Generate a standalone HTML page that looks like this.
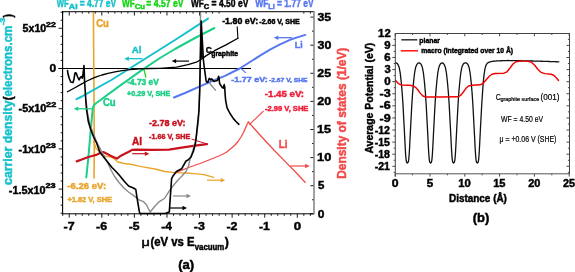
<!DOCTYPE html>
<html><head><meta charset="utf-8"><style>
html,body{margin:0;padding:0;background:#fff;width:575px;height:272px;overflow:hidden}
svg{display:block;will-change:transform}
text{font-family:"Liberation Sans",sans-serif}
</style></head><body>
<svg width="575" height="272" viewBox="0 0 575 272" font-family="Liberation Sans, sans-serif">
<rect width="575" height="272" fill="#fff"/>
<line x1="62.72" y1="213.8" x2="62.72" y2="215.8" stroke="#000" stroke-width="0.9"/>
<line x1="62.72" y1="11.6" x2="62.72" y2="13.6" stroke="#000" stroke-width="0.9"/>
<line x1="69.24" y1="213.8" x2="69.24" y2="217.7" stroke="#000" stroke-width="0.9"/>
<line x1="69.24" y1="11.6" x2="69.24" y2="15.5" stroke="#000" stroke-width="0.9"/>
<line x1="75.76" y1="213.8" x2="75.76" y2="215.8" stroke="#000" stroke-width="0.9"/>
<line x1="75.76" y1="11.6" x2="75.76" y2="13.6" stroke="#000" stroke-width="0.9"/>
<line x1="82.27" y1="213.8" x2="82.27" y2="215.8" stroke="#000" stroke-width="0.9"/>
<line x1="82.27" y1="11.6" x2="82.27" y2="13.6" stroke="#000" stroke-width="0.9"/>
<line x1="88.79" y1="213.8" x2="88.79" y2="215.8" stroke="#000" stroke-width="0.9"/>
<line x1="88.79" y1="11.6" x2="88.79" y2="13.6" stroke="#000" stroke-width="0.9"/>
<line x1="95.3" y1="213.8" x2="95.3" y2="215.8" stroke="#000" stroke-width="0.9"/>
<line x1="95.3" y1="11.6" x2="95.3" y2="13.6" stroke="#000" stroke-width="0.9"/>
<line x1="101.82" y1="213.8" x2="101.82" y2="217.7" stroke="#000" stroke-width="0.9"/>
<line x1="101.82" y1="11.6" x2="101.82" y2="15.5" stroke="#000" stroke-width="0.9"/>
<line x1="108.34" y1="213.8" x2="108.34" y2="215.8" stroke="#000" stroke-width="0.9"/>
<line x1="108.34" y1="11.6" x2="108.34" y2="13.6" stroke="#000" stroke-width="0.9"/>
<line x1="114.85" y1="213.8" x2="114.85" y2="215.8" stroke="#000" stroke-width="0.9"/>
<line x1="114.85" y1="11.6" x2="114.85" y2="13.6" stroke="#000" stroke-width="0.9"/>
<line x1="121.37" y1="213.8" x2="121.37" y2="215.8" stroke="#000" stroke-width="0.9"/>
<line x1="121.37" y1="11.6" x2="121.37" y2="13.6" stroke="#000" stroke-width="0.9"/>
<line x1="127.88" y1="213.8" x2="127.88" y2="215.8" stroke="#000" stroke-width="0.9"/>
<line x1="127.88" y1="11.6" x2="127.88" y2="13.6" stroke="#000" stroke-width="0.9"/>
<line x1="134.4" y1="213.8" x2="134.4" y2="217.7" stroke="#000" stroke-width="0.9"/>
<line x1="134.4" y1="11.6" x2="134.4" y2="15.5" stroke="#000" stroke-width="0.9"/>
<line x1="140.92" y1="213.8" x2="140.92" y2="215.8" stroke="#000" stroke-width="0.9"/>
<line x1="140.92" y1="11.6" x2="140.92" y2="13.6" stroke="#000" stroke-width="0.9"/>
<line x1="147.43" y1="213.8" x2="147.43" y2="215.8" stroke="#000" stroke-width="0.9"/>
<line x1="147.43" y1="11.6" x2="147.43" y2="13.6" stroke="#000" stroke-width="0.9"/>
<line x1="153.95" y1="213.8" x2="153.95" y2="215.8" stroke="#000" stroke-width="0.9"/>
<line x1="153.95" y1="11.6" x2="153.95" y2="13.6" stroke="#000" stroke-width="0.9"/>
<line x1="160.46" y1="213.8" x2="160.46" y2="215.8" stroke="#000" stroke-width="0.9"/>
<line x1="160.46" y1="11.6" x2="160.46" y2="13.6" stroke="#000" stroke-width="0.9"/>
<line x1="166.98" y1="213.8" x2="166.98" y2="217.7" stroke="#000" stroke-width="0.9"/>
<line x1="166.98" y1="11.6" x2="166.98" y2="15.5" stroke="#000" stroke-width="0.9"/>
<line x1="173.5" y1="213.8" x2="173.5" y2="215.8" stroke="#000" stroke-width="0.9"/>
<line x1="173.5" y1="11.6" x2="173.5" y2="13.6" stroke="#000" stroke-width="0.9"/>
<line x1="180.01" y1="213.8" x2="180.01" y2="215.8" stroke="#000" stroke-width="0.9"/>
<line x1="180.01" y1="11.6" x2="180.01" y2="13.6" stroke="#000" stroke-width="0.9"/>
<line x1="186.53" y1="213.8" x2="186.53" y2="215.8" stroke="#000" stroke-width="0.9"/>
<line x1="186.53" y1="11.6" x2="186.53" y2="13.6" stroke="#000" stroke-width="0.9"/>
<line x1="193.04" y1="213.8" x2="193.04" y2="215.8" stroke="#000" stroke-width="0.9"/>
<line x1="193.04" y1="11.6" x2="193.04" y2="13.6" stroke="#000" stroke-width="0.9"/>
<line x1="199.56" y1="213.8" x2="199.56" y2="217.7" stroke="#000" stroke-width="0.9"/>
<line x1="199.56" y1="11.6" x2="199.56" y2="15.5" stroke="#000" stroke-width="0.9"/>
<line x1="206.08" y1="213.8" x2="206.08" y2="215.8" stroke="#000" stroke-width="0.9"/>
<line x1="206.08" y1="11.6" x2="206.08" y2="13.6" stroke="#000" stroke-width="0.9"/>
<line x1="212.59" y1="213.8" x2="212.59" y2="215.8" stroke="#000" stroke-width="0.9"/>
<line x1="212.59" y1="11.6" x2="212.59" y2="13.6" stroke="#000" stroke-width="0.9"/>
<line x1="219.11" y1="213.8" x2="219.11" y2="215.8" stroke="#000" stroke-width="0.9"/>
<line x1="219.11" y1="11.6" x2="219.11" y2="13.6" stroke="#000" stroke-width="0.9"/>
<line x1="225.62" y1="213.8" x2="225.62" y2="215.8" stroke="#000" stroke-width="0.9"/>
<line x1="232.14" y1="213.8" x2="232.14" y2="217.7" stroke="#000" stroke-width="0.9"/>
<line x1="238.66" y1="213.8" x2="238.66" y2="215.8" stroke="#000" stroke-width="0.9"/>
<line x1="245.17" y1="213.8" x2="245.17" y2="215.8" stroke="#000" stroke-width="0.9"/>
<line x1="251.69" y1="213.8" x2="251.69" y2="215.8" stroke="#000" stroke-width="0.9"/>
<line x1="258.2" y1="213.8" x2="258.2" y2="215.8" stroke="#000" stroke-width="0.9"/>
<line x1="264.72" y1="213.8" x2="264.72" y2="217.7" stroke="#000" stroke-width="0.9"/>
<line x1="271.24" y1="213.8" x2="271.24" y2="215.8" stroke="#000" stroke-width="0.9"/>
<line x1="277.75" y1="213.8" x2="277.75" y2="215.8" stroke="#000" stroke-width="0.9"/>
<line x1="284.27" y1="213.8" x2="284.27" y2="215.8" stroke="#000" stroke-width="0.9"/>
<line x1="290.78" y1="213.8" x2="290.78" y2="215.8" stroke="#000" stroke-width="0.9"/>
<line x1="297.3" y1="213.8" x2="297.3" y2="217.7" stroke="#000" stroke-width="0.9"/>
<line x1="303.82" y1="213.8" x2="303.82" y2="215.8" stroke="#000" stroke-width="0.9"/>
<line x1="303.82" y1="11.6" x2="303.82" y2="13.6" stroke="#000" stroke-width="0.9"/>
<line x1="310.33" y1="213.8" x2="310.33" y2="215.8" stroke="#000" stroke-width="0.9"/>
<line x1="310.33" y1="11.6" x2="310.33" y2="13.6" stroke="#000" stroke-width="0.9"/>
<line x1="60.6" y1="213.22" x2="62.6" y2="213.22" stroke="#000" stroke-width="0.9"/>
<line x1="60.6" y1="205.18" x2="62.6" y2="205.18" stroke="#000" stroke-width="0.9"/>
<line x1="60.6" y1="197.14" x2="62.6" y2="197.14" stroke="#000" stroke-width="0.9"/>
<line x1="58.6" y1="189.1" x2="62.6" y2="189.1" stroke="#000" stroke-width="0.9"/>
<line x1="60.6" y1="181.06" x2="62.6" y2="181.06" stroke="#000" stroke-width="0.9"/>
<line x1="60.6" y1="173.02" x2="62.6" y2="173.02" stroke="#000" stroke-width="0.9"/>
<line x1="60.6" y1="164.98" x2="62.6" y2="164.98" stroke="#000" stroke-width="0.9"/>
<line x1="60.6" y1="156.94" x2="62.6" y2="156.94" stroke="#000" stroke-width="0.9"/>
<line x1="58.6" y1="148.9" x2="62.6" y2="148.9" stroke="#000" stroke-width="0.9"/>
<line x1="60.6" y1="140.86" x2="62.6" y2="140.86" stroke="#000" stroke-width="0.9"/>
<line x1="60.6" y1="132.82" x2="62.6" y2="132.82" stroke="#000" stroke-width="0.9"/>
<line x1="60.6" y1="124.78" x2="62.6" y2="124.78" stroke="#000" stroke-width="0.9"/>
<line x1="60.6" y1="116.74" x2="62.6" y2="116.74" stroke="#000" stroke-width="0.9"/>
<line x1="58.6" y1="108.7" x2="62.6" y2="108.7" stroke="#000" stroke-width="0.9"/>
<line x1="60.6" y1="100.66" x2="62.6" y2="100.66" stroke="#000" stroke-width="0.9"/>
<line x1="60.6" y1="92.62" x2="62.6" y2="92.62" stroke="#000" stroke-width="0.9"/>
<line x1="60.6" y1="84.58" x2="62.6" y2="84.58" stroke="#000" stroke-width="0.9"/>
<line x1="60.6" y1="76.54" x2="62.6" y2="76.54" stroke="#000" stroke-width="0.9"/>
<line x1="58.6" y1="68.5" x2="62.6" y2="68.5" stroke="#000" stroke-width="0.9"/>
<line x1="60.6" y1="60.46" x2="62.6" y2="60.46" stroke="#000" stroke-width="0.9"/>
<line x1="60.6" y1="52.42" x2="62.6" y2="52.42" stroke="#000" stroke-width="0.9"/>
<line x1="60.6" y1="44.38" x2="62.6" y2="44.38" stroke="#000" stroke-width="0.9"/>
<line x1="60.6" y1="36.34" x2="62.6" y2="36.34" stroke="#000" stroke-width="0.9"/>
<line x1="58.6" y1="28.3" x2="62.6" y2="28.3" stroke="#000" stroke-width="0.9"/>
<line x1="60.6" y1="20.26" x2="62.6" y2="20.26" stroke="#000" stroke-width="0.9"/>
<line x1="60.6" y1="12.22" x2="62.6" y2="12.22" stroke="#000" stroke-width="0.9"/>
<line x1="310.4" y1="213.8" x2="314" y2="213.8" stroke="#000" stroke-width="0.9"/>
<line x1="312" y1="199.75" x2="314" y2="199.75" stroke="#000" stroke-width="0.9"/>
<line x1="310.4" y1="185.7" x2="314" y2="185.7" stroke="#000" stroke-width="0.9"/>
<line x1="312" y1="171.65" x2="314" y2="171.65" stroke="#000" stroke-width="0.9"/>
<line x1="310.4" y1="157.6" x2="314" y2="157.6" stroke="#000" stroke-width="0.9"/>
<line x1="312" y1="143.55" x2="314" y2="143.55" stroke="#000" stroke-width="0.9"/>
<line x1="310.4" y1="129.5" x2="314" y2="129.5" stroke="#000" stroke-width="0.9"/>
<line x1="312" y1="115.45" x2="314" y2="115.45" stroke="#000" stroke-width="0.9"/>
<line x1="310.4" y1="101.4" x2="314" y2="101.4" stroke="#000" stroke-width="0.9"/>
<line x1="312" y1="87.35" x2="314" y2="87.35" stroke="#000" stroke-width="0.9"/>
<line x1="310.4" y1="73.3" x2="314" y2="73.3" stroke="#000" stroke-width="0.9"/>
<line x1="312" y1="59.25" x2="314" y2="59.25" stroke="#000" stroke-width="0.9"/>
<line x1="310.4" y1="45.2" x2="314" y2="45.2" stroke="#000" stroke-width="0.9"/>
<line x1="312" y1="31.15" x2="314" y2="31.15" stroke="#000" stroke-width="0.9"/>
<line x1="310.4" y1="17.1" x2="314" y2="17.1" stroke="#000" stroke-width="0.9"/>
<line x1="58.5" y1="68.5" x2="251" y2="68.5" stroke="#000" stroke-width="1"/>
<polyline points="93.4,11.6 94,100 94.3,150 94,178" fill="none" stroke="#e9a52c" stroke-width="1.6" stroke-linejoin="round" stroke-linecap="round"/>
<polyline points="93.6,141 96,148.4 100.2,152.5 105.4,156.2 111.7,157.4 114.8,159.3 118,162 124.2,163.5 132,164.5 140,166.3 155,169 165,171.5 175,172.7 186,173 197,173.8 203.7,174.7 208.5,175.8 213.6,177.4" fill="none" stroke="#e9a52c" stroke-width="1.3" stroke-linejoin="round" stroke-linecap="round"/>
<polyline points="76.4,99.2 82,96.5 86,94.2 111.4,80 134.4,65.5 175,40 208,18.6" fill="none" stroke="#17c1cc" stroke-width="2" stroke-linejoin="round" stroke-linecap="round"/>
<polyline points="86.3,177.4 88.4,157 90.3,135 92.4,112 93,107.5 94.2,105 96,103.3 119,86.4 142.5,69.6 160,58 175,49 195,38 214.4,28" fill="none" stroke="#1ccf86" stroke-width="2" stroke-linejoin="round" stroke-linecap="round"/>
<line x1="143.9" y1="69.5" x2="146" y2="77.7" stroke="#14d414" stroke-width="1.2"/>
<polyline points="174,97.5 185,93 200,86.3 212,81.2 225,75.8 239.7,68.5 250,62 260,55.6 270,49.6 280,44.4 290,39.8 298,37.1 305.3,34.9" fill="none" stroke="#5878f2" stroke-width="2" stroke-linejoin="round" stroke-linecap="round"/>
<line x1="241.5" y1="68.8" x2="245.7" y2="72.9" stroke="#5878f2" stroke-width="1.2"/>
<polyline points="76.7,161.4 82.4,159.3 87.7,157.2 92.9,155.7 97,154.6 100.2,153 103.3,152 106.4,153.6 110.6,155.7 113.8,157.2 116.9,158.6 121,155.7 125.2,153.6 128.4,152 132,149.9 136,149.6 152.6,149.8 169,149.6 180,147.8 195,145.6 207,144.2" fill="none" stroke="#c9121f" stroke-width="2.2" stroke-linejoin="round" stroke-linecap="round"/>
<line x1="207" y1="144" x2="191.5" y2="139" stroke="#c9121f" stroke-width="1"/>
<polyline points="175,172.8 190,167 200,163.5 209,160 220,155.5 226,152.5 231,148.5 235,145 238,141.5 241,137 243.5,132.5 245.5,128 247,124.5 248.4,122" fill="none" stroke="#f24a4a" stroke-width="1.3" stroke-linejoin="round" stroke-linecap="round"/>
<polyline points="248.4,122 260,135 273.9,150 283.3,159.6 295,171.5 305.1,182.2" fill="none" stroke="#f24a4a" stroke-width="1.3" stroke-linejoin="round" stroke-linecap="round"/>
<line x1="263.5" y1="111" x2="249.3" y2="124.7" stroke="#f24a4a" stroke-width="1.1"/>
<polyline points="86,100 87.5,113 90,124.8 93.2,133 96,140 98.2,145 103,154 108,163.5 111,170 114.3,176 119,182.5 123.9,188 128.5,192 133.4,195.4 139.4,200.1 143,201.3 146.6,205 150.1,212 155,206 159.7,201.3 164.5,198.5 169.5,190.6 173,186 178,180 182,176 186,171.5 188.5,166 190,159.5 193,150 196,140 198.5,120 199.8,90 200.4,60 200.5,11.6" fill="none" stroke="#8a8a8a" stroke-width="1.4" stroke-linejoin="round" stroke-linecap="round"/>
<polyline points="209.8,83.5 215.5,90.2" fill="none" stroke="#8a8a8a" stroke-width="1.3" stroke-linejoin="round" stroke-linecap="round"/>
<polyline points="67.5,91.8 74,88.2 80.4,84.6 87,81 92,78.6 97,76.6 102,75 108,73.4 115,71.8 122,70.6 130,69.6 140,68.9 150,68.5 160,68.3 176.5,67.2 188,64.7 196.4,62.2 200.5,59.8 206.3,55.6 214.5,50.7 226,44.9 237.9,38.3" fill="none" stroke="#000" stroke-width="1.3" stroke-linejoin="round" stroke-linecap="round"/>
<polyline points="237.9,38.3 237.2,26.8" fill="none" stroke="#000" stroke-width="1.1" stroke-linejoin="round" stroke-linecap="round"/>
<line x1="188.9" y1="61.1" x2="174.3" y2="61.1" stroke="#000" stroke-width="1.2"/>
<polygon points="171.6,61.1 176.1,58.9 176.1,63.3" fill="#000"/>
<polyline points="67.5,70.5 68.1,74.3 69.2,78.2 70.8,82 73,82.6 74.1,78.7 74.7,74.3 75.2,72.7 76.3,73.2 77.4,76.5 79.1,79.8 80.2,77.6 81.3,76.5 82.4,78.2 82.9,74.9 83.5,69.9 84,65.5 84.5,80 85.8,100 86.6,110 88.3,121.5 90.8,129.8 93.4,136.5 96.8,143.5 100,152.4 106,160 112,167.5 116,171.5 120,176 124,181 128.6,186 133.4,188 135.8,189.5 137,197.7 139.4,212 140,213.5 165,213.5 169.3,212 171.6,178.6 172.8,176.3 176.4,171.5 181.6,168.8 186,161 188,160 191,157 193.5,151 195.5,143 196.3,136 197.5,125 199,110 199.7,90 200.3,60 201.2,21 202.3,40 203.4,60 204.1,66 205.2,74.2 206.2,81.5 207.7,82.5 209.3,78.4 210.8,79.9 211.9,78.9 213.9,81.5 215.5,81 217.5,80.4 218.6,76.3 219.1,78.4 219.6,83.5 221.6,86.6 223.2,88.2 224.2,84.6 224.7,86.6 225.1,94 225.6,100.2 227,107.6 229.7,113 233.4,118.6 236,121.5 238.9,124.3" fill="none" stroke="#000" stroke-width="1.6" stroke-linejoin="round" stroke-linecap="round"/>
<polygon points="199.9,58 201.2,21 202.9,58" fill="#000"/>
<line x1="169" y1="208" x2="184.3" y2="208" stroke="#000" stroke-width="1.2"/>
<polygon points="187,208 182.5,205.8 182.5,210.2" fill="#000"/>
<line x1="173" y1="196" x2="188.3" y2="196" stroke="#8a8a8a" stroke-width="1.2"/>
<polygon points="191,196 186.5,193.8 186.5,198.2" fill="#8a8a8a"/>
<line x1="207" y1="180.2" x2="222.5" y2="180.2" stroke="#e9a52c" stroke-width="1.2"/>
<polygon points="225.2,180.2 220.7,178 220.7,182.4" fill="#e9a52c"/>
<line x1="290.4" y1="166" x2="307" y2="166" stroke="#f24a4a" stroke-width="1.2"/>
<polygon points="309.7,166 305.2,163.8 305.2,168.2" fill="#f24a4a"/>
<line x1="132.2" y1="153.7" x2="146.6" y2="153.7" stroke="#c9121f" stroke-width="1.2"/>
<polygon points="149.3,153.7 144.8,151.5 144.8,155.9" fill="#c9121f"/>
<line x1="142.5" y1="58.7" x2="127" y2="58.7" stroke="#17c1cc" stroke-width="1.3"/>
<polygon points="124.3,58.7 128.8,56.5 128.8,60.9" fill="#17c1cc"/>
<line x1="92" y1="108.8" x2="76.4" y2="108.8" stroke="#1ccf86" stroke-width="1.3"/>
<polygon points="73.7,108.8 78.2,106.6 78.2,111" fill="#1ccf86"/>
<line x1="292" y1="37.7" x2="276.5" y2="37.7" stroke="#5878f2" stroke-width="1.3"/>
<polygon points="273.8,37.7 278.3,35.5 278.3,39.9" fill="#5878f2"/>
<line x1="62.6" y1="11.6" x2="314" y2="11.6" stroke="#333" stroke-width="1.25"/>
<line x1="62.6" y1="213.8" x2="314" y2="213.8" stroke="#000" stroke-width="1"/>
<line x1="62.6" y1="11.1" x2="62.6" y2="214.3" stroke="#000" stroke-width="1.1"/>
<line x1="314" y1="11.1" x2="314" y2="214.3" stroke="#808080" stroke-width="1.5"/>
<text transform="translate(56.8 6.6) scale(0.6656 1)" font-size="11.66" font-weight="bold" fill="#17c1cc" stroke="#17c1cc" stroke-width="0.45">WF</text>
<text transform="translate(68.78 8.7) scale(1.2517 1)" font-size="7.06" font-weight="bold" fill="#17c1cc" stroke="#17c1cc" stroke-width="0.45">Al</text>
<text transform="translate(79.66 6.6) scale(0.7266 1)" font-size="11.66" font-weight="bold" fill="#17c1cc" stroke="#17c1cc" stroke-width="0.45">= 4.77 eV</text>
<text transform="translate(121.9 6.6) scale(0.7107 1)" font-size="11.66" font-weight="bold" fill="#14d414" stroke="#14d414" stroke-width="0.45">WF</text>
<text transform="translate(134.69 8.7) scale(1.0981 1)" font-size="7.06" font-weight="bold" fill="#14d414" stroke="#14d414" stroke-width="0.45">Cu</text>
<text transform="translate(146.35 6.6) scale(0.7407 1)" font-size="11.66" font-weight="bold" fill="#14d414" stroke="#14d414" stroke-width="0.45">= 4.57 eV</text>
<text transform="translate(191 6.6) scale(0.7164 1)" font-size="11.66" font-weight="bold" fill="#000" stroke="#000" stroke-width="0.45">WF</text>
<text transform="translate(203.7 8.9) scale(1.0593 1)" font-size="7.06" font-weight="bold" fill="#000" stroke="#000" stroke-width="0.45">C</text>
<text transform="translate(211.56 6.6) scale(0.7326 1)" font-size="11.66" font-weight="bold" fill="#000" stroke="#000" stroke-width="0.45">= 4.50 eV</text>
<text transform="translate(255.2 6.6) scale(0.7390 1)" font-size="11.66" font-weight="bold" fill="#5878f2" stroke="#5878f2" stroke-width="0.45">WF</text>
<text transform="translate(268.22 8.7) scale(1.0503 1)" font-size="7.06" font-weight="bold" fill="#5878f2" stroke="#5878f2" stroke-width="0.45">Li</text>
<text transform="translate(277.06 6.6) scale(0.7266 1)" font-size="11.66" font-weight="bold" fill="#5878f2" stroke="#5878f2" stroke-width="0.45">= 1.77 eV</text>
<text transform="translate(96.22 26.8) scale(0.9316 1)" font-size="10.17" font-weight="bold" fill="#e9a52c" stroke="#e9a52c" stroke-width="0.45">Cu</text>
<text transform="translate(131.86 53) scale(1.0209 1)" font-size="9.42" font-weight="bold" fill="#17c1cc" stroke="#17c1cc" stroke-width="0.45">Al</text>
<text transform="translate(127.16 84.7) scale(1.0041 1)" font-size="8.35" font-weight="bold" fill="#1ccf86" stroke="#1ccf86" stroke-width="0.45">-4.73 eV</text>
<text transform="translate(126.91 96) scale(1.0285 1)" font-size="7.06" font-weight="bold" fill="#1ccf86" stroke="#1ccf86" stroke-width="0.45">+0.29 V, SHE</text>
<text transform="translate(102.91 106.4) scale(0.9378 1)" font-size="10.27" font-weight="bold" fill="#1ccf86" stroke="#1ccf86" stroke-width="0.45">Cu</text>
<text transform="translate(149.04 126) scale(1.0390 1)" font-size="8.67" font-weight="bold" fill="#c9121f" stroke="#c9121f" stroke-width="0.45">-2.78 eV:</text>
<text transform="translate(149.11 139.4) scale(1.0466 1)" font-size="6.85" font-weight="bold" fill="#c9121f" stroke="#c9121f" stroke-width="0.45">-1.66 V, SHE</text>
<text transform="translate(131.95 144.5) scale(0.9892 1)" font-size="10.17" font-weight="bold" fill="#c9121f" stroke="#c9121f" stroke-width="0.45">Al</text>
<text transform="translate(67.32 189) scale(1.0396 1)" font-size="9.2" font-weight="bold" fill="#e9a52c" stroke="#e9a52c" stroke-width="0.45">-6.26 eV:</text>
<text transform="translate(67.4 202.4) scale(0.9669 1)" font-size="7.7" font-weight="bold" fill="#e9a52c" stroke="#e9a52c" stroke-width="0.45">+1.82 V, SHE</text>
<text transform="translate(205.66 53) scale(0.8918 1)" font-size="9.42" font-weight="bold" fill="#000" stroke="#000" stroke-width="0.45">C</text>
<text transform="translate(211.23 56) scale(0.9999 1)" font-size="6.85" font-weight="bold" fill="#000" stroke="#000" stroke-width="0.45">graphite</text>
<text transform="translate(222.14 23.5) scale(1.0243 1)" font-size="8.67" font-weight="bold" fill="#000" stroke="#000" stroke-width="0.45">-1.80 eV:</text>
<text transform="translate(259.32 23.5) scale(1.0791 1)" font-size="6.53" font-weight="bold" fill="#000" stroke="#000" stroke-width="0.45">-2.66 V, SHE</text>
<text transform="translate(231.24 81.7) scale(1.1496 1)" font-size="7.81" font-weight="bold" fill="#5878f2" stroke="#5878f2" stroke-width="0.45">-1.77 eV:</text>
<text transform="translate(269.03 81.7) scale(1.0809 1)" font-size="6.21" font-weight="bold" fill="#5878f2" stroke="#5878f2" stroke-width="0.45">-2.67 V, SHE</text>
<text transform="translate(264.81 97.1) scale(1.0535 1)" font-size="9.2" font-weight="bold" fill="#f01c3a" stroke="#f01c3a" stroke-width="0.45">-1.45 eV:</text>
<text transform="translate(264.9 110.8) scale(0.9991 1)" font-size="7.6" font-weight="bold" fill="#f01c3a" stroke="#f01c3a" stroke-width="0.45">-2.99 V, SHE</text>
<text transform="translate(294.83 48) scale(0.9078 1)" font-size="9.63" font-weight="bold" fill="#5878f2" stroke="#5878f2" stroke-width="0.45">Li</text>
<text transform="translate(278.65 148.4) scale(0.8842 1)" font-size="11.24" font-weight="bold" fill="#f24a4a" stroke="#f24a4a" stroke-width="0.45">Li</text>
<text transform="translate(22.58 31.8) scale(0.9833 1)" font-size="10.81" font-weight="bold" fill="#000" stroke="#000" stroke-width="0.45">5x10</text>
<text transform="translate(46.09 26.5) scale(1.3695 1)" font-size="6.42" font-weight="bold" fill="#000" stroke="#000" stroke-width="0.45">22</text>
<text transform="translate(49.42 71.6) scale(1.0580 1)" font-size="11.34" font-weight="bold" fill="#000" stroke="#000" stroke-width="0.45">0</text>
<text transform="translate(18.57 112.3) scale(1.0020 1)" font-size="10.81" font-weight="bold" fill="#000" stroke="#000" stroke-width="0.45">-5x10</text>
<text transform="translate(46.08 107) scale(1.4147 1)" font-size="6.42" font-weight="bold" fill="#000" stroke="#000" stroke-width="0.45">22</text>
<text transform="translate(18.57 153.4) scale(0.9908 1)" font-size="10.81" font-weight="bold" fill="#000" stroke="#000" stroke-width="0.45">-1x10</text>
<text transform="translate(45.68 148) scale(1.4228 1)" font-size="6.42" font-weight="bold" fill="#000" stroke="#000" stroke-width="0.45">23</text>
<text transform="translate(8.87 193.6) scale(1.0036 1)" font-size="10.81" font-weight="bold" fill="#000" stroke="#000" stroke-width="0.45">-1.5x10</text>
<text transform="translate(45.38 188) scale(1.4228 1)" font-size="6.42" font-weight="bold" fill="#000" stroke="#000" stroke-width="0.45">23</text>
<text transform="translate(317.82 217.5) scale(1.0580 1)" font-size="11.34" font-weight="bold" fill="#000" stroke="#000" stroke-width="0.45">0</text>
<text transform="translate(317.96 189.4) scale(1.0051 1)" font-size="11.34" font-weight="bold" fill="#000" stroke="#000" stroke-width="0.45">5</text>
<text transform="translate(317.03 161.3) scale(1.1348 1)" font-size="11.34" font-weight="bold" fill="#000" stroke="#000" stroke-width="0.45">10</text>
<text transform="translate(317.04 133.2) scale(1.1182 1)" font-size="11.34" font-weight="bold" fill="#000" stroke="#000" stroke-width="0.45">15</text>
<text transform="translate(317.36 105.1) scale(1.1074 1)" font-size="11.34" font-weight="bold" fill="#000" stroke="#000" stroke-width="0.45">20</text>
<text transform="translate(317.37 77) scale(1.0916 1)" font-size="11.34" font-weight="bold" fill="#000" stroke="#000" stroke-width="0.45">25</text>
<text transform="translate(317.49 48.9) scale(1.0968 1)" font-size="11.34" font-weight="bold" fill="#000" stroke="#000" stroke-width="0.45">30</text>
<text transform="translate(317.49 20.8) scale(1.0813 1)" font-size="11.34" font-weight="bold" fill="#000" stroke="#000" stroke-width="0.45">35</text>
<text transform="translate(63.54 229.9) scale(1.0790 1)" font-size="11.56" font-weight="bold" fill="#000" stroke="#000" stroke-width="0.45">-7</text>
<text transform="translate(96.12 229.9) scale(1.0724 1)" font-size="11.56" font-weight="bold" fill="#000" stroke="#000" stroke-width="0.45">-6</text>
<text transform="translate(128.71 229.9) scale(1.0594 1)" font-size="11.56" font-weight="bold" fill="#000" stroke="#000" stroke-width="0.45">-5</text>
<text transform="translate(161.3 229.9) scale(1.0343 1)" font-size="11.56" font-weight="bold" fill="#000" stroke="#000" stroke-width="0.45">-4</text>
<text transform="translate(193.86 229.9) scale(1.0724 1)" font-size="11.56" font-weight="bold" fill="#000" stroke="#000" stroke-width="0.45">-3</text>
<text transform="translate(226.44 229.9) scale(1.0790 1)" font-size="11.56" font-weight="bold" fill="#000" stroke="#000" stroke-width="0.45">-2</text>
<text transform="translate(259.03 229.9) scale(1.0594 1)" font-size="11.56" font-weight="bold" fill="#000" stroke="#000" stroke-width="0.45">-1</text>
<text transform="translate(293.87 229.9) scale(1.1477 1)" font-size="11.56" font-weight="bold" fill="#000" stroke="#000" stroke-width="0.45">0</text>
<text transform="translate(141.45 246) scale(1.2824 1)" font-size="11.34" font-weight="normal" fill="#000" stroke="#000" stroke-width="0.45">μ</text>
<text transform="translate(150.43 246.2) scale(0.9329 1)" font-size="12.2" font-weight="bold" fill="#000" stroke="#000" stroke-width="0.45">(eV vs E</text>
<text transform="translate(194.66 250) scale(0.8850 1)" font-size="8.88" font-weight="bold" fill="#000" stroke="#000" stroke-width="0.45">vacuum</text>
<text transform="translate(224.7 246.2) scale(1.0068 1)" font-size="12.2" font-weight="bold" fill="#000" stroke="#000" stroke-width="0.45">)</text>
<text transform="translate(178.15 269.4) scale(1.0349 1)" font-size="12.63" font-weight="bold" fill="#000" stroke="#000" stroke-width="0.45">(a)</text>
<text transform="translate(11.5 184.89) rotate(-90) scale(0.9973 1)" font-size="12.31" font-weight="bold" fill="#17c1cc" stroke="#17c1cc" stroke-width="0.45">carrier density</text>
<text transform="translate(11.5 100.27) rotate(-90) scale(0.9315 1)" font-size="12.31" font-weight="bold" fill="#17c1cc" stroke="#17c1cc" stroke-width="0.45"><tspan fill="#000" stroke="#000">(</tspan><tspan fill="#17c1cc" stroke="#17c1cc">electrons.cm</tspan></text>
<text transform="translate(5 25.33) rotate(-90) scale(1.1299 1)" font-size="7.28" font-weight="bold" fill="#17c1cc" stroke="#17c1cc" stroke-width="0.45">-3</text>
<text transform="translate(11.5 17.6) rotate(-90) scale(0.8555 1)" font-size="12.31" font-weight="bold" fill="#000" stroke="#000" stroke-width="0.45">)</text>
<text transform="translate(346.2 178.77) rotate(-90) scale(0.9521 1)" font-size="12.52" font-weight="bold" fill="#f24a4a" stroke="#f24a4a" stroke-width="0.45">Density of states (1/eV)</text>
<text transform="translate(372.9 153.56) rotate(-90) scale(0.8994 1)" font-size="11.66" font-weight="bold" fill="#000" stroke="#000" stroke-width="0.45">Average Potential (eV)</text>
<line x1="393.7" y1="172.34" x2="395.3" y2="172.34" stroke="#333" stroke-width="0.9"/>
<line x1="567.9" y1="172.34" x2="569.5" y2="172.34" stroke="#333" stroke-width="0.9"/>
<line x1="392.3" y1="166.29" x2="395.3" y2="166.29" stroke="#333" stroke-width="0.9"/>
<line x1="566.5" y1="166.29" x2="569.5" y2="166.29" stroke="#333" stroke-width="0.9"/>
<line x1="393.7" y1="160.25" x2="395.3" y2="160.25" stroke="#333" stroke-width="0.9"/>
<line x1="567.9" y1="160.25" x2="569.5" y2="160.25" stroke="#333" stroke-width="0.9"/>
<line x1="392.3" y1="154.2" x2="395.3" y2="154.2" stroke="#333" stroke-width="0.9"/>
<line x1="566.5" y1="154.2" x2="569.5" y2="154.2" stroke="#333" stroke-width="0.9"/>
<line x1="393.7" y1="148.16" x2="395.3" y2="148.16" stroke="#333" stroke-width="0.9"/>
<line x1="567.9" y1="148.16" x2="569.5" y2="148.16" stroke="#333" stroke-width="0.9"/>
<line x1="392.3" y1="142.11" x2="395.3" y2="142.11" stroke="#333" stroke-width="0.9"/>
<line x1="566.5" y1="142.11" x2="569.5" y2="142.11" stroke="#333" stroke-width="0.9"/>
<line x1="393.7" y1="136.06" x2="395.3" y2="136.06" stroke="#333" stroke-width="0.9"/>
<line x1="567.9" y1="136.06" x2="569.5" y2="136.06" stroke="#333" stroke-width="0.9"/>
<line x1="392.3" y1="130.02" x2="395.3" y2="130.02" stroke="#333" stroke-width="0.9"/>
<line x1="566.5" y1="130.02" x2="569.5" y2="130.02" stroke="#333" stroke-width="0.9"/>
<line x1="393.7" y1="123.97" x2="395.3" y2="123.97" stroke="#333" stroke-width="0.9"/>
<line x1="567.9" y1="123.97" x2="569.5" y2="123.97" stroke="#333" stroke-width="0.9"/>
<line x1="392.3" y1="117.93" x2="395.3" y2="117.93" stroke="#333" stroke-width="0.9"/>
<line x1="566.5" y1="117.93" x2="569.5" y2="117.93" stroke="#333" stroke-width="0.9"/>
<line x1="393.7" y1="111.88" x2="395.3" y2="111.88" stroke="#333" stroke-width="0.9"/>
<line x1="567.9" y1="111.88" x2="569.5" y2="111.88" stroke="#333" stroke-width="0.9"/>
<line x1="392.3" y1="105.84" x2="395.3" y2="105.84" stroke="#333" stroke-width="0.9"/>
<line x1="566.5" y1="105.84" x2="569.5" y2="105.84" stroke="#333" stroke-width="0.9"/>
<line x1="393.7" y1="99.8" x2="395.3" y2="99.8" stroke="#333" stroke-width="0.9"/>
<line x1="567.9" y1="99.8" x2="569.5" y2="99.8" stroke="#333" stroke-width="0.9"/>
<line x1="392.3" y1="93.75" x2="395.3" y2="93.75" stroke="#333" stroke-width="0.9"/>
<line x1="566.5" y1="93.75" x2="569.5" y2="93.75" stroke="#333" stroke-width="0.9"/>
<line x1="393.7" y1="87.7" x2="395.3" y2="87.7" stroke="#333" stroke-width="0.9"/>
<line x1="567.9" y1="87.7" x2="569.5" y2="87.7" stroke="#333" stroke-width="0.9"/>
<line x1="392.3" y1="81.66" x2="395.3" y2="81.66" stroke="#333" stroke-width="0.9"/>
<line x1="566.5" y1="81.66" x2="569.5" y2="81.66" stroke="#333" stroke-width="0.9"/>
<line x1="393.7" y1="75.61" x2="395.3" y2="75.61" stroke="#333" stroke-width="0.9"/>
<line x1="567.9" y1="75.61" x2="569.5" y2="75.61" stroke="#333" stroke-width="0.9"/>
<line x1="392.3" y1="69.57" x2="395.3" y2="69.57" stroke="#333" stroke-width="0.9"/>
<line x1="566.5" y1="69.57" x2="569.5" y2="69.57" stroke="#333" stroke-width="0.9"/>
<line x1="393.7" y1="63.52" x2="395.3" y2="63.52" stroke="#333" stroke-width="0.9"/>
<line x1="567.9" y1="63.52" x2="569.5" y2="63.52" stroke="#333" stroke-width="0.9"/>
<line x1="392.3" y1="57.48" x2="395.3" y2="57.48" stroke="#333" stroke-width="0.9"/>
<line x1="566.5" y1="57.48" x2="569.5" y2="57.48" stroke="#333" stroke-width="0.9"/>
<line x1="393.7" y1="51.43" x2="395.3" y2="51.43" stroke="#333" stroke-width="0.9"/>
<line x1="567.9" y1="51.43" x2="569.5" y2="51.43" stroke="#333" stroke-width="0.9"/>
<line x1="392.3" y1="45.39" x2="395.3" y2="45.39" stroke="#333" stroke-width="0.9"/>
<line x1="566.5" y1="45.39" x2="569.5" y2="45.39" stroke="#333" stroke-width="0.9"/>
<line x1="393.7" y1="39.34" x2="395.3" y2="39.34" stroke="#333" stroke-width="0.9"/>
<line x1="567.9" y1="39.34" x2="569.5" y2="39.34" stroke="#333" stroke-width="0.9"/>
<line x1="395.2" y1="173.8" x2="395.2" y2="176.6" stroke="#333" stroke-width="0.9"/>
<line x1="395.2" y1="33.5" x2="395.2" y2="36.3" stroke="#333" stroke-width="0.9"/>
<line x1="412.6" y1="173.8" x2="412.6" y2="175.3" stroke="#333" stroke-width="0.9"/>
<line x1="412.6" y1="33.5" x2="412.6" y2="35" stroke="#333" stroke-width="0.9"/>
<line x1="430" y1="173.8" x2="430" y2="176.6" stroke="#333" stroke-width="0.9"/>
<line x1="430" y1="33.5" x2="430" y2="36.3" stroke="#333" stroke-width="0.9"/>
<line x1="447.4" y1="173.8" x2="447.4" y2="175.3" stroke="#333" stroke-width="0.9"/>
<line x1="447.4" y1="33.5" x2="447.4" y2="35" stroke="#333" stroke-width="0.9"/>
<line x1="464.8" y1="173.8" x2="464.8" y2="176.6" stroke="#333" stroke-width="0.9"/>
<line x1="464.8" y1="33.5" x2="464.8" y2="36.3" stroke="#333" stroke-width="0.9"/>
<line x1="482.2" y1="173.8" x2="482.2" y2="175.3" stroke="#333" stroke-width="0.9"/>
<line x1="482.2" y1="33.5" x2="482.2" y2="35" stroke="#333" stroke-width="0.9"/>
<line x1="499.6" y1="173.8" x2="499.6" y2="176.6" stroke="#333" stroke-width="0.9"/>
<line x1="499.6" y1="33.5" x2="499.6" y2="36.3" stroke="#333" stroke-width="0.9"/>
<line x1="517" y1="173.8" x2="517" y2="175.3" stroke="#333" stroke-width="0.9"/>
<line x1="517" y1="33.5" x2="517" y2="35" stroke="#333" stroke-width="0.9"/>
<line x1="534.4" y1="173.8" x2="534.4" y2="176.6" stroke="#333" stroke-width="0.9"/>
<line x1="534.4" y1="33.5" x2="534.4" y2="36.3" stroke="#333" stroke-width="0.9"/>
<line x1="551.8" y1="173.8" x2="551.8" y2="175.3" stroke="#333" stroke-width="0.9"/>
<line x1="551.8" y1="33.5" x2="551.8" y2="35" stroke="#333" stroke-width="0.9"/>
<line x1="569.2" y1="173.8" x2="569.2" y2="176.6" stroke="#333" stroke-width="0.9"/>
<line x1="569.2" y1="33.5" x2="569.2" y2="36.3" stroke="#333" stroke-width="0.9"/>
<polyline points="395.6,62.92 395.85,62.95 396.1,62.99 396.35,63.04 396.6,63.09 396.85,63.18 397.1,63.45 397.35,63.73 397.6,64 397.85,64.28 398.1,64.8 398.35,65.39 398.6,65.98 398.85,66.56 399.1,67.15 399.35,68.43 399.6,69.72 399.85,71 400.1,72.28 400.35,74.12 400.6,76.34 400.85,78.56 401.1,80.77 401.35,83.35 401.6,86.17 401.85,88.99 402.1,91.82 402.35,95.21 402.6,98.99 402.85,102.77 403.1,106.91 403.35,111.62 403.6,116.32 403.85,120.95 404.1,125.59 404.35,130.42 404.6,135.26 404.85,140.3 405.1,145.33 405.35,149.77 405.6,154.2 405.85,157.02 406.1,159.84 406.35,161.05 406.6,162.26 406.85,162.51 407.1,162.76 407.35,163.02 407.6,162.86 407.85,162.61 408.1,162.36 408.35,161.53 408.6,160.33 408.85,158.15 409.1,155.33 409.35,151.54 409.6,147.11 409.85,142.31 410.1,137.27 410.35,132.36 410.6,127.52 410.85,122.81 411.1,118.17 411.35,113.5 411.6,108.8 411.85,104.28 412.1,100.5 412.35,96.72 412.6,92.94 412.85,90.12 413.1,87.3 413.35,84.48 413.6,81.66 413.85,79.44 414.1,77.23 414.35,75.01 414.6,72.79 414.85,71.51 415.1,70.23 415.35,68.95 415.6,67.66 415.85,66.8 416.1,66.21 416.35,65.62 416.6,65.04 416.85,64.45 417.1,64.11 417.35,63.84 417.6,63.56 417.85,63.29 418.1,63.1 418.35,63.06 418.6,63.01 418.85,62.97 419.1,62.96 419.35,63 419.6,63.05 419.85,63.09 420.1,63.23 420.35,63.51 420.6,63.78 420.85,64.06 421.1,64.33 421.35,64.92 421.6,65.51 421.85,66.09 422.1,66.68 422.35,67.41 422.6,68.69 422.85,69.97 423.1,71.26 423.35,72.54 423.6,74.57 423.85,76.78 424.1,79 424.35,81.22 424.6,83.92 424.85,86.74 425.1,89.56 425.35,92.38 425.6,95.97 425.85,99.74 426.1,103.52 426.35,107.86 426.6,112.56 426.85,117.24 427.1,121.88 427.35,126.55 427.6,131.39 427.85,136.27 428.1,141.3 428.35,146.22 428.6,150.65 428.85,154.76 429.1,157.59 429.35,160.08 429.6,161.29 429.85,162.31 430.1,162.56 430.35,162.81 430.6,163.07 430.85,162.81 431.1,162.56 431.35,162.31 431.6,161.29 431.85,160.08 432.1,157.59 432.35,154.76 432.6,150.65 432.85,146.22 433.1,141.3 433.35,136.27 433.6,131.39 433.85,126.55 434.1,121.88 434.35,117.24 434.6,112.56 434.85,107.86 435.1,103.52 435.35,99.74 435.6,95.97 435.85,92.38 436.1,89.56 436.35,86.74 436.6,83.92 436.85,81.22 437.1,79 437.35,76.78 437.6,74.57 437.85,72.54 438.1,71.26 438.35,69.97 438.6,68.69 438.85,67.41 439.1,66.68 439.35,66.09 439.6,65.51 439.85,64.92 440.1,64.33 440.35,64.06 440.6,63.78 440.85,63.51 441.1,63.23 441.35,63.09 441.6,63.05 441.85,63 442.1,62.96 442.35,63 442.6,63.05 442.85,63.09 443.1,63.23 443.35,63.51 443.6,63.78 443.85,64.06 444.1,64.33 444.35,64.92 444.6,65.51 444.85,66.09 445.1,66.68 445.35,67.41 445.6,68.69 445.85,69.97 446.1,71.26 446.35,72.54 446.6,74.57 446.85,76.78 447.1,79 447.35,81.22 447.6,83.92 447.85,86.74 448.1,89.56 448.35,92.38 448.6,95.97 448.85,99.74 449.1,103.52 449.35,107.86 449.6,112.56 449.85,117.24 450.1,121.88 450.35,126.55 450.6,131.39 450.85,136.27 451.1,141.3 451.35,146.22 451.6,150.65 451.85,154.76 452.1,157.59 452.35,160.08 452.6,161.29 452.85,162.31 453.1,162.56 453.35,162.81 453.6,163.07 453.85,162.81 454.1,162.56 454.35,162.31 454.6,161.29 454.85,160.08 455.1,157.59 455.35,154.76 455.6,150.65 455.85,146.22 456.1,141.3 456.35,136.27 456.6,131.39 456.85,126.55 457.1,121.88 457.35,117.24 457.6,112.56 457.85,107.86 458.1,103.52 458.35,99.74 458.6,95.97 458.85,92.38 459.1,89.56 459.35,86.74 459.6,83.92 459.85,81.22 460.1,79 460.35,76.78 460.6,74.57 460.85,72.54 461.1,71.26 461.35,69.97 461.6,68.69 461.85,67.41 462.1,66.68 462.35,66.09 462.6,65.51 462.85,64.92 463.1,64.33 463.35,64.06 463.6,63.78 463.85,63.51 464.1,63.23 464.35,63.09 464.6,63.05 464.85,63 465.1,62.96 465.35,62.92 465.6,62.92 465.85,62.97 466.1,63.01 466.35,63.06 466.6,63.1 466.85,63.29 467.1,63.56 467.35,63.84 467.6,64.11 467.85,64.45 468.1,65.04 468.35,65.62 468.6,66.21 468.85,66.8 469.1,67.66 469.35,68.95 469.6,70.23 469.85,71.51 470.1,72.79 470.35,75.01 470.6,77.23 470.85,79.44 471.1,81.66 471.35,84.48 471.6,87.3 471.85,90.12 472.1,92.94 472.35,96.72 472.6,100.5 472.85,104.28 473.1,108.8 473.35,113.5 473.6,118.17 473.85,122.81 474.1,127.52 474.35,132.36 474.6,137.27 474.85,142.31 475.1,147.11 475.35,151.54 475.6,155.33 475.85,158.15 476.1,160.33 476.35,161.53 476.6,162.36 476.85,162.61 477.1,162.86 477.35,163.02 477.6,162.76 477.85,162.51 478.1,162.26 478.35,161.05 478.6,159.84 478.85,157.02 479.1,154.2 479.35,149.77 479.6,145.33 479.85,140.3 480.1,135.26 480.35,130.42 480.6,125.59 480.85,120.95 481.1,116.32 481.35,111.62 481.6,106.91 481.85,102.77 482.1,98.99 482.35,95.21 482.6,91.53 482.85,88.01 483.1,84.48 483.35,81.21 483.6,78.94 483.85,76.67 484.1,74.41 484.35,72.77 484.6,71.13 484.85,69.49 485.1,68.36 485.35,67.35 485.6,66.35 485.85,65.46 486.1,65.07 486.35,64.67 486.6,64.27 486.85,63.88 487.1,63.48 487.35,63.23 487.6,63.07 487.85,62.91 488.1,62.76 488.35,62.6 488.6,62.44 488.85,62.3 489.1,62.22 489.35,62.15 489.6,62.07 489.85,61.99 490.1,61.91 490.35,61.84 490.6,61.76 490.85,61.68 491.1,61.61 491.35,61.53 491.6,61.45 491.85,61.38 492.1,61.36 492.35,61.34 492.6,61.32 492.85,61.3 493.1,61.27 493.35,61.25 493.6,61.23 493.85,61.21 494.1,61.19 494.35,61.16 494.6,61.14 494.85,61.12 495.1,61.1 495.35,61.08 495.6,61.05 495.85,61.03 496.1,61.01 496.35,60.99 496.6,60.97 496.85,60.95 497.1,60.92 497.35,60.9 497.6,60.89 497.85,60.88 498.1,60.88 498.35,60.87 498.6,60.86 498.85,60.85 499.1,60.84 499.35,60.83 499.6,60.82 499.85,60.81 500.1,60.8 500.35,60.79 500.6,60.78 500.85,60.77 501.1,60.76 501.35,60.75 501.6,60.74 501.85,60.73 502.1,60.72 502.35,60.72 502.6,60.71 502.85,60.7 503.1,60.69 503.35,60.68 503.6,60.67 503.85,60.66 504.1,60.65 504.35,60.64 504.6,60.63 504.85,60.62 505.1,60.61 505.35,60.6 505.6,60.59 505.85,60.58 506.1,60.57 506.35,60.56 506.6,60.56 506.85,60.55 507.1,60.54 507.35,60.53 507.6,60.52 507.85,60.51 508.1,60.5 508.35,60.51 508.6,60.51 508.85,60.52 509.1,60.53 509.35,60.53 509.6,60.54 509.85,60.54 510.1,60.55 510.35,60.55 510.6,60.56 510.85,60.56 511.1,60.57 511.35,60.57 511.6,60.58 511.85,60.58 512.1,60.59 512.35,60.59 512.6,60.6 512.85,60.6 513.1,60.61 513.35,60.61 513.6,60.62 513.85,60.62 514.1,60.63 514.35,60.63 514.6,60.64 514.85,60.64 515.1,60.65 515.35,60.65 515.6,60.66 515.85,60.66 516.1,60.67 516.35,60.67 516.6,60.68 516.85,60.69 517.1,60.69 517.35,60.7 517.6,60.7 517.85,60.71 518.1,60.71 518.35,60.72 518.6,60.72 518.85,60.73 519.1,60.73 519.35,60.74 519.6,60.74 519.85,60.75 520.1,60.75 520.35,60.76 520.6,60.76 520.85,60.77 521.1,60.77 521.35,60.78 521.6,60.78 521.85,60.79 522.1,60.79 522.35,60.8 522.6,60.8 522.85,60.81 523.1,60.81 523.35,60.82 523.6,60.82 523.85,60.83 524.1,60.83 524.35,60.84 524.6,60.84 524.85,60.85 525.1,60.86 525.35,60.86 525.6,60.87 525.85,60.87 526.1,60.88 526.35,60.88 526.6,60.89 526.85,60.89 527.1,60.9 527.35,60.9 527.6,60.91 527.85,60.91 528.1,60.92 528.35,60.92 528.6,60.93 528.85,60.93 529.1,60.94 529.35,60.94 529.6,60.95 529.85,60.95 530.1,60.96 530.35,60.96 530.6,60.97 530.85,60.97 531.1,60.98 531.35,60.98 531.6,60.99 531.85,60.99 532.1,61 532.35,61 532.6,61.01 532.85,61.02 533.1,61.02 533.35,61.03 533.6,61.03 533.85,61.04 534.1,61.04 534.35,61.05 534.6,61.05 534.85,61.06 535.1,61.06 535.35,61.07 535.6,61.07 535.85,61.08 536.1,61.08 536.35,61.09 536.6,61.09 536.85,61.1 537.1,61.1 537.35,61.11 537.6,61.12 537.85,61.13 538.1,61.13 538.35,61.14 538.6,61.15 538.85,61.16 539.1,61.17 539.35,61.18 539.6,61.18 539.85,61.19 540.1,61.2 540.35,61.21 540.6,61.22 540.85,61.23 541.1,61.23 541.35,61.24 541.6,61.25 541.85,61.26 542.1,61.27 542.35,61.28 542.6,61.28 542.85,61.29 543.1,61.3 543.35,61.31 543.6,61.32 543.85,61.33 544.1,61.34 544.35,61.34 544.6,61.35 544.85,61.36 545.1,61.37 545.35,61.38 545.6,61.39 545.85,61.39 546.1,61.4 546.35,61.41 546.6,61.42 546.85,61.43 547.1,61.44 547.35,61.44 547.6,61.45 547.85,61.46 548.1,61.47 548.35,61.48 548.6,61.49 548.85,61.49 549.1,61.5 549.35,61.51 549.6,61.52 549.85,61.53 550.1,61.54 550.35,61.55 550.6,61.55 550.85,61.56 551.1,61.57 551.35,61.58 551.6,61.59 551.85,61.6 552.1,61.6 552.35,61.61 552.6,61.62 552.85,61.63 553.1,61.64 553.35,61.65 553.6,61.65 553.85,61.66 554.1,61.67 554.35,61.68 554.6,61.69 554.85,61.7 555.1,61.7 555.35,61.71 555.6,61.72 555.85,61.73 556.1,61.74 556.35,61.75 556.6,61.76 556.85,61.76 557.1,61.77 557.35,61.78 557.6,61.79 557.85,61.8 558.1,61.81 558.35,61.81 558.6,61.82 558.85,61.83" fill="none" stroke="#111" stroke-width="1.3" stroke-linejoin="round" stroke-linecap="round"/>
<polyline points="395.6,80.6 397.5,82.6 399.5,84.3 402,85 409,85.3 413,85.8 415.5,87.3 418,90 420.5,93.6 423,96 425.5,97 440,97 458,96.8 460.5,95.5 463,92.5 466,88.3 468.5,86 472,85.2 480,84.8 483,83.5 486,80 489,76.5 492,74.2 495,73.5 504,73.2 507,71.8 510,68 513,64 516,61.8 520,61.1 527,61.1 531,62 534.5,65 538,69.5 541,72.3 545,73.6 551,74.2 554,75.5 556.5,78 558.5,80.5" fill="none" stroke="#f00000" stroke-width="1.4" stroke-linejoin="round" stroke-linecap="round"/>
<line x1="395.3" y1="33.5" x2="569.5" y2="33.5" stroke="#444" stroke-width="1"/>
<line x1="395.3" y1="173.8" x2="569.5" y2="173.8" stroke="#555" stroke-width="1"/>
<line x1="395.3" y1="33" x2="395.3" y2="176.6" stroke="#444" stroke-width="1"/>
<line x1="569.5" y1="33" x2="569.5" y2="174.3" stroke="#444" stroke-width="1"/>
<line x1="401.3" y1="39.8" x2="417.3" y2="39.8" stroke="#333" stroke-width="1.5"/>
<line x1="400.8" y1="50.8" x2="418" y2="50.8" stroke="#ff0000" stroke-width="1.4"/>
<text transform="translate(419.35 42.7) scale(0.9145 1)" font-size="7.49" font-weight="bold" fill="#000" stroke="#000" stroke-width="0.45">planar</text>
<text transform="translate(421.26 53) scale(0.9066 1)" font-size="7.49" font-weight="bold" fill="#000" stroke="#000" stroke-width="0.45">macro (integrated over 10 Å)</text>
<text transform="translate(378.12 36.9) scale(1.0549 1)" font-size="10.7" font-weight="bold" fill="#000" stroke="#000" stroke-width="0.45">12</text>
<text transform="translate(384.3 48.99) scale(1.0598 1)" font-size="10.7" font-weight="bold" fill="#000" stroke="#000" stroke-width="0.45">9</text>
<text transform="translate(384.3 61.08) scale(1.0598 1)" font-size="10.7" font-weight="bold" fill="#000" stroke="#000" stroke-width="0.45">6</text>
<text transform="translate(384.42 73.17) scale(1.0384 1)" font-size="10.7" font-weight="bold" fill="#000" stroke="#000" stroke-width="0.45">3</text>
<text transform="translate(384.24 85.26) scale(1.0821 1)" font-size="10.7" font-weight="bold" fill="#000" stroke="#000" stroke-width="0.45">0</text>
<text transform="translate(379.5 97.35) scale(1.1697 1)" font-size="10.7" font-weight="bold" fill="#000" stroke="#000" stroke-width="0.45">-3</text>
<text transform="translate(379.5 109.44) scale(1.1697 1)" font-size="10.7" font-weight="bold" fill="#000" stroke="#000" stroke-width="0.45">-6</text>
<text transform="translate(379.5 121.53) scale(1.1697 1)" font-size="10.7" font-weight="bold" fill="#000" stroke="#000" stroke-width="0.45">-9</text>
<text transform="translate(374.68 133.62) scale(0.9928 1)" font-size="10.7" font-weight="bold" fill="#000" stroke="#000" stroke-width="0.45">-12</text>
<text transform="translate(374.68 145.71) scale(0.9820 1)" font-size="10.7" font-weight="bold" fill="#000" stroke="#000" stroke-width="0.45">-15</text>
<text transform="translate(374.68 157.8) scale(0.9856 1)" font-size="10.7" font-weight="bold" fill="#000" stroke="#000" stroke-width="0.45">-18</text>
<text transform="translate(374.68 169.89) scale(0.9820 1)" font-size="10.7" font-weight="bold" fill="#000" stroke="#000" stroke-width="0.45">-21</text>
<text transform="translate(391.81 187.2) scale(1.1412 1)" font-size="10.7" font-weight="bold" fill="#000" stroke="#000" stroke-width="0.45">0</text>
<text transform="translate(426.75 187.2) scale(1.0841 1)" font-size="10.7" font-weight="bold" fill="#000" stroke="#000" stroke-width="0.45">5</text>
<text transform="translate(458.32 187.2) scale(1.0549 1)" font-size="10.7" font-weight="bold" fill="#000" stroke="#000" stroke-width="0.45">10</text>
<text transform="translate(493.13 187.2) scale(1.0394 1)" font-size="10.7" font-weight="bold" fill="#000" stroke="#000" stroke-width="0.45">15</text>
<text transform="translate(528.21 187.2) scale(1.0294 1)" font-size="10.7" font-weight="bold" fill="#000" stroke="#000" stroke-width="0.45">20</text>
<text transform="translate(563.02 187.2) scale(1.0147 1)" font-size="10.7" font-weight="bold" fill="#000" stroke="#000" stroke-width="0.45">25</text>
<text transform="translate(448.95 201.9) scale(0.9205 1)" font-size="10.81" font-weight="bold" fill="#000" stroke="#000" stroke-width="0.45">Distance (Å)</text>
<text transform="translate(472.75 222.4) scale(1.0269 1)" font-size="12.63" font-weight="bold" fill="#000" stroke="#000" stroke-width="0.45">(b)</text>
<text transform="translate(495.65 99.8) scale(0.8095 1)" font-size="8.56" font-weight="normal" fill="#000" stroke="#000" stroke-width="0.2">C</text>
<text transform="translate(500.58 100.8) scale(1.0954 1)" font-size="4.92" font-weight="normal" fill="#000" stroke="#000" stroke-width="0.2">graphite surface</text>
<text transform="translate(540.51 99.8) scale(0.9515 1)" font-size="8.56" font-weight="normal" fill="#000" stroke="#000" stroke-width="0.2">(001)</text>
<text transform="translate(500.97 121.8) scale(0.8004 1)" font-size="8.56" font-weight="normal" fill="#000" stroke="#000" stroke-width="0.2">WF = 4.50 eV</text>
<text transform="translate(499.55 142.3) scale(0.8320 1)" font-size="8.35" font-weight="normal" fill="#000" stroke="#000" stroke-width="0.2">μ = +0.06 V (SHE)</text>
</svg>
</body></html>
